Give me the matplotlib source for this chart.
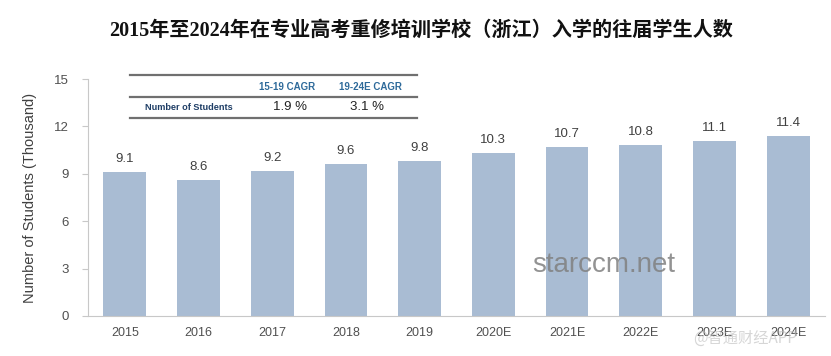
import matplotlib
matplotlib.use("Agg")
import matplotlib.pyplot as plt
from matplotlib.lines import Line2D

categories = ["2015", "2016", "2017", "2018", "2019", "2020E", "2021E", "2022E", "2023E", "2024E"]
values = [9.1, 8.6, 9.2, 9.6, 9.8, 10.3, 10.7, 10.8, 11.1, 11.4]
value_labels = ["9.1", "8.6", "9.2", "9.6", "9.8", "10.3", "10.7", "10.8", "11.1", "11.4"]
yticks = [0, 3, 6, 9, 12, 15]
title = "2015年至2024年在专业高考重修培训学校（浙江）入学的往届学生人数"
table_headers = ["15-19 CAGR", "19-24E CAGR"]
table_row_label = "Number of Students"
table_values = ["1.9 %", "3.1 %"]

plt.rcParams['font.family'] = ['Liberation Sans', 'DejaVu Sans']

W, H = 831, 356
fig = plt.figure(figsize=(W / 100, H / 100), dpi=100)
ax = fig.add_axes([88 / W, 1 - 316 / H, (825 - 88) / W, (316 - 79) / H])

x = list(range(len(categories)))
ax.bar(x, values, width=0.58, color="#A9BCD3", zorder=2)
for xi, v, lab in zip(x, values, value_labels):
    ax.annotate(lab, (xi, v), xytext=(0, 5), textcoords="offset points",
                ha="center", va="bottom", fontsize=9.5, color="#404040")

ax.set_xlim(-0.5, len(categories) - 0.5)
ax.set_ylim(0, 15)
ax.set_yticks(yticks)
ax.set_yticklabels([str(t) for t in yticks], fontsize=9.5, color="#505050")
ax.set_xticks(x)
ax.set_xticklabels(categories, fontsize=9, color="#505050")
ax.tick_params(axis="x", length=0, pad=8)
ax.tick_params(axis="y", length=4, color="#C8C8C8", pad=10, width=0.8)
for s in ["top", "right"]:
    ax.spines[s].set_visible(False)
ax.spines["left"].set_color("#C8C8C8")
ax.spines["bottom"].set_color("#C8C8C8")
ax.set_ylabel("Number of Students (Thousand)", fontsize=10.5, color="#404040", labelpad=12)

fig.text(421 / W, 1 - 31 / H, title, ha="center", va="center", fontsize=14.5, fontweight="bold",
         family=["Liberation Serif", "Noto Sans CJK SC"], color="#111111")

# table
def fy(py):
    return 1 - py / H

def fx(px):
    return px / W

for py in [75, 97, 118]:
    fig.add_artist(Line2D([fx(130), fx(417)], [fy(py), fy(py)], color="#707070", lw=1.6))
fig.text(fx(287), fy(87), table_headers[0], ha="center", va="center", fontsize=7,
         color="#2E6A9A", fontweight="bold")
fig.text(fx(370), fy(87), table_headers[1], ha="center", va="center", fontsize=7,
         color="#2E6A9A", fontweight="bold")
fig.text(fx(145), fy(107.5), table_row_label, ha="left", va="center", fontsize=6.6,
         color="#1F3E66", fontweight="bold")
fig.text(fx(290), fy(107.5), table_values[0], ha="center", va="center", fontsize=9.5, color="#222222")
fig.text(fx(367), fy(107.5), table_values[1], ha="center", va="center", fontsize=9.5, color="#222222")

# watermarks
fig.text(fx(604), fy(265), "starccm.net", ha="center", va="center", fontsize=20, color="#808080", alpha=0.85)
fig.text(fx(745), fy(338), "@智通财经APP", ha="center", va="center", fontsize=11,
         family=["Noto Sans CJK SC", "DejaVu Sans"], color="#BBBBBB", alpha=0.6)

fig.savefig("out.png", dpi=100)
